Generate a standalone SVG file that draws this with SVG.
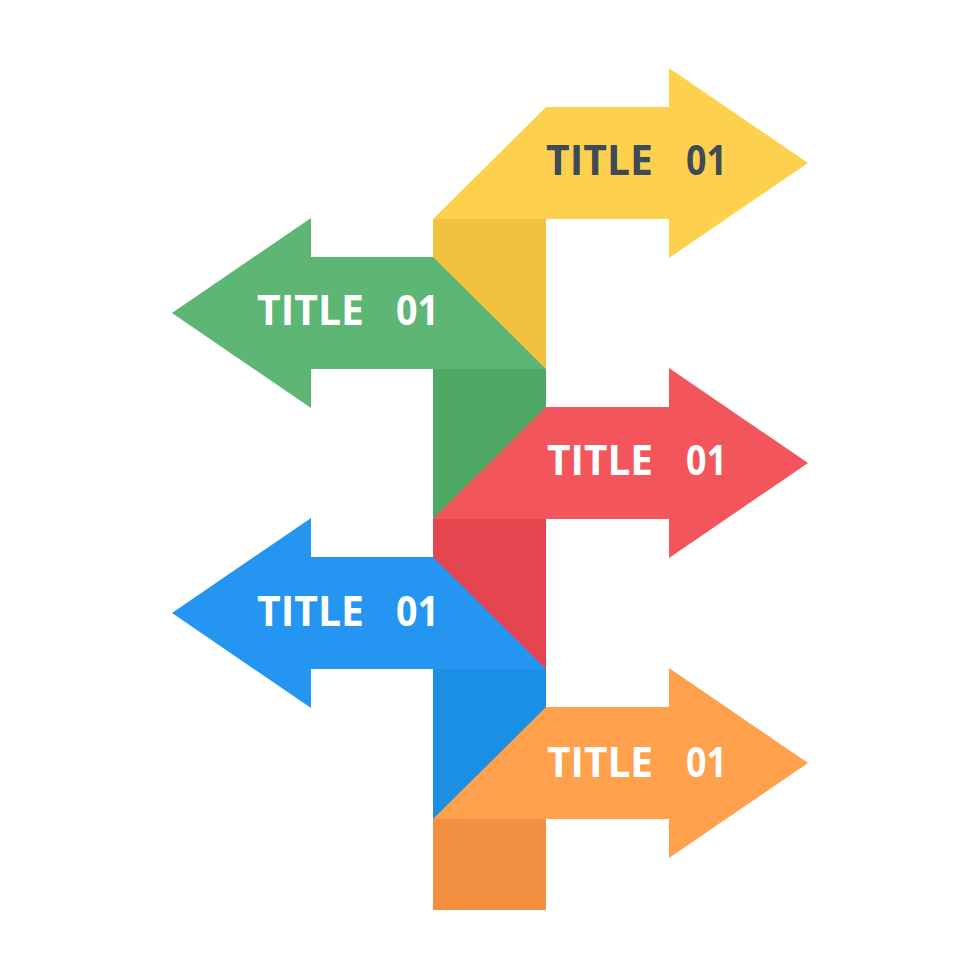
<svg xmlns="http://www.w3.org/2000/svg" width="980" height="980" viewBox="0 0 980 980">
<style>
.t{font-family:"Open Sans","Noto Sans","Liberation Sans",sans-serif;font-weight:700;font-size:41px}
.w{fill:#ffffff}
.d{fill:#3e4b56}
</style>
<rect width="980" height="980" fill="#ffffff"/>
<g id="yellow">
<polygon points="546,107 669,107 669,68 808,163 669,258 669,219 433,219" fill="#fdd14e"/>
<rect x="433" y="219" width="113" height="150" fill="#f2c140"/>
<text class="t d" y="175"><tspan x="546" textLength="107" lengthAdjust="spacingAndGlyphs">TITLE</tspan><tspan x="686" textLength="41" lengthAdjust="spacingAndGlyphs">01</tspan></text>
</g>
<g id="green">
<polygon points="433,257 311,257 311,218 172,313 311,408 311,369 546,369" fill="#5db673"/>
<rect x="433" y="369" width="113" height="150" fill="#4fa764"/>
<text class="t w" y="325"><tspan x="257" textLength="107" lengthAdjust="spacingAndGlyphs">TITLE</tspan><tspan x="396" textLength="43" lengthAdjust="spacingAndGlyphs">01</tspan></text>
</g>
<g id="red">
<polygon points="546,407 669,407 669,368 808,463 669,558 669,519 433,519" fill="#f2555b"/>
<rect x="433" y="519" width="113" height="150" fill="#e5454f"/>
<text class="t w" y="475"><tspan x="547" textLength="106" lengthAdjust="spacingAndGlyphs">TITLE</tspan><tspan x="686" textLength="41" lengthAdjust="spacingAndGlyphs">01</tspan></text>
</g>
<g id="blue">
<polygon points="433,557 311,557 311,518 172,613 311,708 311,669 546,669" fill="#2496f1"/>
<rect x="433" y="669" width="113" height="150" fill="#1b8fe3"/>
<text class="t w" y="626"><tspan x="257" textLength="107" lengthAdjust="spacingAndGlyphs">TITLE</tspan><tspan x="396" textLength="43" lengthAdjust="spacingAndGlyphs">01</tspan></text>
</g>
<g id="orange">
<polygon points="546,707 669,707 669,668 808,763 669,858 669,819 433,819" fill="#ffa04c"/>
<rect x="433" y="819" width="113" height="91" fill="#f28f40"/>
<text class="t w" y="777"><tspan x="547" textLength="106" lengthAdjust="spacingAndGlyphs">TITLE</tspan><tspan x="686" textLength="41" lengthAdjust="spacingAndGlyphs">01</tspan></text>
</g>
<g id="connectors"></g>
</svg>
